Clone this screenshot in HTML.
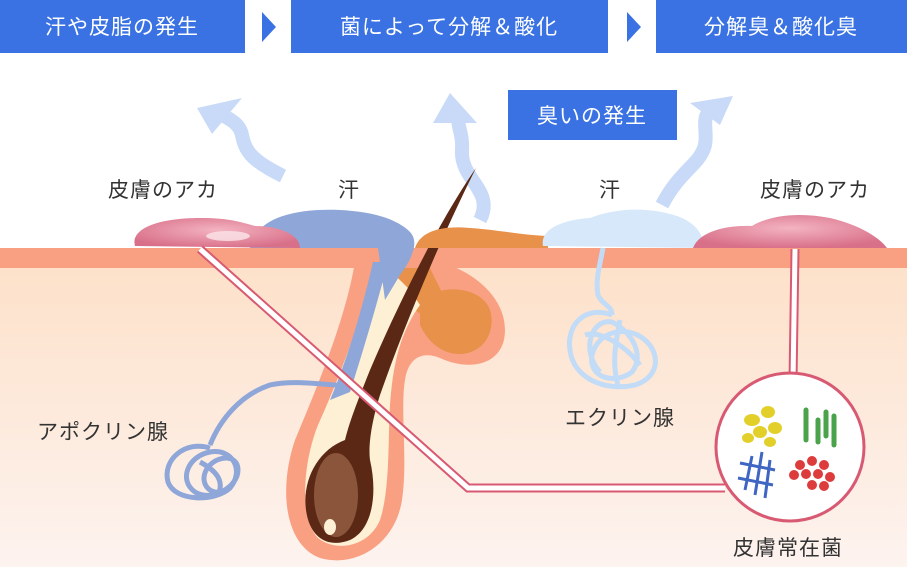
<!DOCTYPE html>
<html><head><meta charset="utf-8"><style>
html,body{margin:0;padding:0;background:#fff;}
svg{display:block;}
text{font-family:"Liberation Sans","Noto Sans CJK JP",sans-serif;}
</style></head><body>
<svg width="907" height="567" viewBox="0 0 907 567" xmlns="http://www.w3.org/2000/svg">
<defs>
<linearGradient id="derm" x1="0" y1="0" x2="0" y2="1">
<stop offset="0" stop-color="#fde0c8"/><stop offset="1" stop-color="#fdf3ef"/>
</linearGradient>
<radialGradient id="aca" cx="0.5" cy="0.4" r="0.6">
<stop offset="0" stop-color="#f3b3c0"/><stop offset="1" stop-color="#d9708a"/>
</radialGradient>
</defs>
<rect x="0" y="0" width="245" height="53" fill="#3a72e3"/>
<polygon points="262,12 276,27 262,42" fill="#3a72e3"/>
<rect x="291" y="0" width="317" height="53" fill="#3a72e3"/>
<polygon points="627,12 641,27 627,42" fill="#3a72e3"/>
<rect x="656" y="0" width="251" height="53" fill="#3a72e3"/>
<g font-size="21" fill="#fff" text-anchor="middle" letter-spacing="1">
<text x="122" y="34">汗や皮脂の発生</text>
<text x="449" y="34">菌によって分解＆酸化</text>
<text x="781" y="34">分解臭＆酸化臭</text>
<text x="592" y="123">臭いの発生</text>
</g>
<rect x="508" y="90" width="169" height="50" fill="#3a72e3"/>
<text x="592" y="123" font-size="21" fill="#fff" text-anchor="middle" letter-spacing="1">臭いの発生</text>
<g fill="none" stroke="#c8daf8" stroke-width="14">
<path d="M283,176 C250,160 245,150 242,135 C240,125 232,120 222,115"/>
<path d="M480,220 C495,190 460,180 462,150 C463,135 458,128 458,118"/>
<path d="M662,205 C680,170 700,165 705,145 C708,130 700,118 712,108"/>
</g>
<polygon points="197,108 242,98 212,134" fill="#c8daf8"/>
<polygon points="450,93 433,123 477,123" fill="#c8daf8"/>
<polygon points="733,96 690,103 720,125" fill="#c8daf8"/>
<rect x="0" y="248" width="907" height="319" fill="url(#derm)"/>
<rect x="0" y="248" width="907" height="20" fill="#f9a083"/>
<!-- follicle outer -->
<path d="M355,262 C345,320 320,380 295,440 C278,490 285,545 320,558 C355,568 395,545 402,500 C408,460 400,410 405,380 C408,360 420,350 440,358 C470,372 505,365 505,330 C505,295 470,270 440,262 Z" fill="#f9a083"/>
<path d="M420,300 C445,282 482,288 490,310 C496,330 485,352 462,354 C442,355 428,342 420,325 Z" fill="#e8914a"/>
<path d="M380,268 L430,268 C440,290 452,305 440,318 C420,322 410,300 395,300 Z" fill="#e8914a"/>
<path d="M373,268 C362,315 345,365 318,425 C302,465 300,520 318,538 C335,552 368,548 380,520 C390,490 388,440 390,405 C393,360 402,330 420,305 L410,290 C400,280 392,272 387,268 Z" fill="#fdf0d4"/>
<path d="M373,262 C362,310 347,360 330,400 L350,392 C365,345 378,300 388,262 Z" fill="#8fa6d8"/>
<!-- hair -->
<path d="M476,168 C440,220 400,300 370,370 C358,400 350,420 345,440 C318,450 302,480 306,510 C310,540 330,548 350,540 C372,530 378,495 370,460 C368,445 372,420 380,395 C410,310 445,230 476,168 Z" fill="#5a2814"/>
<ellipse cx="336" cy="495" rx="22" ry="42" fill="#8a553b"/>
<ellipse cx="330" cy="527" rx="6" ry="8" fill="#fdf0d4"/>
<path d="M250,248 C255,220 290,208 340,210 C380,212 400,222 410,232 C418,240 415,255 400,275 L385,300 L378,248 Z" fill="#8fa6d8"/>
<path d="M415,248 C420,232 440,225 470,228 C500,230 520,235 548,236 L548,248 Z" fill="#e8914a"/>
<path d="M135,246 C130,228 160,218 200,218 C230,218 240,222 255,226 C280,226 300,235 300,248 Z" fill="url(#aca)"/>
<ellipse cx="228" cy="236" rx="22" ry="5" fill="#fbe6ea" opacity="0.8"/>
<path d="M543,246 C540,230 560,220 590,218 C610,210 640,206 670,214 C695,220 705,235 703,248 Z" fill="#d7e8fa"/>
<path d="M693,248 C700,230 730,225 752,226 C770,215 800,212 830,218 C860,225 880,238 887,248 Z" fill="url(#aca)"/>
<g fill="none" stroke="#8fa6d8" stroke-width="5">
<path d="M347,386 C320,384 290,380 270,385 C240,395 220,420 210,445"/>
<path d="M210,448 C185,440 162,460 168,482 C175,502 215,502 230,488 C245,470 232,448 210,452 C188,456 178,480 195,492 C210,502 238,488 238,470 C238,455 220,455 210,465 C198,477 205,495 222,492 M200,462 C215,470 225,480 218,495"/>
</g>
<g fill="none" stroke="#c2dbf6" stroke-width="5">
<path d="M603,248 C600,265 595,280 598,295 C602,305 612,305 612,315"/>
<path d="M612,315 C585,305 566,325 570,350 C573,378 605,392 635,385 C658,378 662,355 645,340 C628,325 598,330 592,355 C588,378 615,385 632,372 C645,355 632,332 612,322 C592,318 580,350 600,372 M585,335 C600,330 625,345 640,365 M620,320 C615,345 612,365 618,385"/>
</g>
<g fill="none" stroke="#d85a72" stroke-width="9">
<path d="M200,249 L468,488 L725,488"/>
<path d="M795,249 L793,382"/>
</g>
<g fill="none" stroke="#fff" stroke-width="5">
<path d="M200,249 L468,488 L725,488"/>
<path d="M795,249 L793,382"/>
</g>
<circle cx="790" cy="447" r="74" fill="#fff" stroke="#d85a72" stroke-width="3"/>
<g fill="#e3cf2a">
<ellipse cx="752" cy="420" rx="8" ry="6"/><ellipse cx="768" cy="412" rx="7" ry="6"/><ellipse cx="760" cy="432" rx="7" ry="6"/><ellipse cx="775" cy="428" rx="7" ry="6"/><ellipse cx="748" cy="438" rx="6" ry="5"/><ellipse cx="770" cy="442" rx="6" ry="5"/>
</g>
<g stroke="#4aa24a" stroke-width="5" stroke-linecap="round">
<line x1="806" y1="410" x2="806" y2="440"/><line x1="818" y1="420" x2="818" y2="442"/><line x1="826" y1="412" x2="826" y2="436"/><line x1="834" y1="416" x2="834" y2="445"/>
</g>
<g stroke="#3e66c2" stroke-width="3">
<line x1="752" y1="456" x2="745" y2="490"/><line x1="762" y1="452" x2="755" y2="495"/><line x1="770" y1="460" x2="765" y2="498"/>
<line x1="740" y1="463" x2="775" y2="470"/><line x1="738" y1="478" x2="773" y2="485"/>
</g>
<g fill="#dd3c3c">
<circle cx="800" cy="465" r="5"/><circle cx="812" cy="461" r="5"/><circle cx="824" cy="465" r="5"/><circle cx="794" cy="475" r="5"/><circle cx="806" cy="474" r="5"/><circle cx="818" cy="474" r="5"/><circle cx="830" cy="477" r="5"/><circle cx="812" cy="485" r="5"/><circle cx="824" cy="486" r="5"/>
</g>
<g font-size="21" fill="#333" letter-spacing="1">
<text x="108" y="197">皮膚のアカ</text>
<text x="338" y="197">汗</text>
<text x="599" y="197">汗</text>
<text x="760" y="197">皮膚のアカ</text>
<text x="37" y="439">アポクリン腺</text>
<text x="565" y="425">エクリン腺</text>
<text x="733" y="555">皮膚常在菌</text>
</g>
</svg>
</body></html>
